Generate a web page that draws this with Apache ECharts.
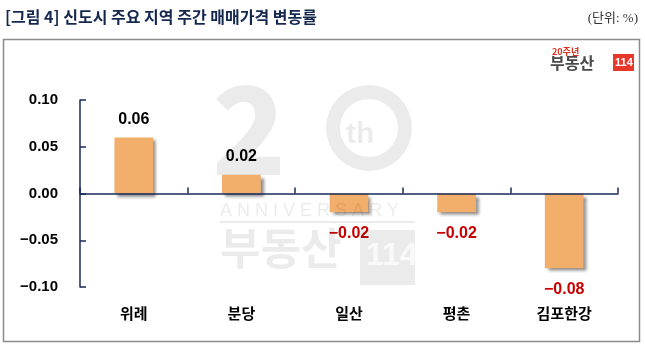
<!DOCTYPE html>
<html><head><meta charset="utf-8">
<script src="https://cdn.jsdelivr.net/npm/echarts@6/dist/echarts.min.js"></script>
<style>html,body{margin:0;padding:0;background:#fff}#c{width:645px;height:362px}</style>
</head><body><div id="c"></div>
<script>
const categories = ['위례', '분당', '일산', '평촌', '김포한강'];
const values = [0.06, 0.02, -0.02, -0.02, -0.08];
const yTicks = [-0.10, -0.05, 0.00, 0.05, 0.10];
const titleText = '[그림 4] 신도시 주요 지역 주간 매매가격 변동률';
const unitText = '(단위: %)';

const chart = echarts.init(document.getElementById('c'), null, {renderer: 'canvas'});
const wm = '#000';
const wmOp = 0.08;
chart.setOption({
  animation: false,
  backgroundColor: '#fff',
  grid: {left: 80, right: 27, top: 100, bottom: 75, containLabel: false, outerBoundsMode: 'none'},
  xAxis: [{
    type: 'category', data: categories,
    axisLine: {onZero: true, lineStyle: {color: '#1a2a5a', width: 1.5}},
    axisTick: {show: true, inside: true, length: 6, lineStyle: {color: '#1a2a5a', width: 1.5}},
    axisLabel: {show: false},
    z: 5
  }, {
    type: 'category', data: categories, position: 'bottom',
    axisLine: {show: false, onZero: false},
    axisTick: {show: false},
    axisLabel: {margin: 19, color: '#000', fontSize: 15, fontWeight: 'bold', fontFamily: 'Noto Sans CJK KR'}
  }],
  yAxis: {
    type: 'value', min: yTicks[0], max: yTicks[yTicks.length - 1], interval: 0.05,
    splitLine: {show: false},
    axisLine: {show: true, lineStyle: {color: '#1a2a5a', width: 1.5}},
    axisTick: {show: true, inside: true, length: 6, lineStyle: {color: '#1a2a5a', width: 1.5}},
    axisLabel: {
      margin: 22, color: '#000', fontSize: 15, fontWeight: 'bold', fontFamily: 'Liberation Sans',
      formatter: v => (v < -1e-9 ? '\u2212' : '') + Math.abs(v).toFixed(2)
    }
  },
  series: [{
    type: 'bar',
    xAxisIndex: 0,
    barWidth: '36%',
    data: values.map(v => ({
      value: v,
      label: {
        show: true,
        position: v >= 0 ? 'top' : 'bottom',
        distance: v >= 0 ? 10 : 13,
        color: v >= 0 ? '#000' : '#c80000',
        fontSize: 16, fontWeight: 'bold', fontFamily: 'Liberation Sans',
        formatter: p => (p.value < 0 ? '\u2212' : '') + Math.abs(p.value).toFixed(2)
      }
    })),
    itemStyle: {
      color: '#F2AE6B',
      shadowColor: 'rgba(0,0,0,0.45)', shadowBlur: 3, shadowOffsetX: 3, shadowOffsetY: 3
    },
    z: 2
  }],
  graphic: [
    {type: 'rect', shape: {x: 3.5, y: 39.5, width: 636, height: 302}, style: {fill: 'none', stroke: '#8c8c8c', lineWidth: 1.5}, z: 0, silent: true},
    {type: 'text', left: 5, top: 9, style: {text: titleText, fill: '#14284f', font: 'bold 16px "Noto Sans CJK KR"'}},
    {type: 'text', right: 7, top: 12, style: {text: unitText, fill: '#333', font: '13px "Liberation Serif", "Noto Sans CJK KR"'}},
    // watermark
    {type: 'text', x: 212, y: 68, style: {text: '2', fill: wm, opacity: wmOp, font: '900 122px "Noto Sans CJK KR"'}, z: 10, silent: true},
    {type: 'ring', shape: {cx: 369, cy: 128, r: 43, r0: 29}, style: {fill: wm, opacity: wmOp}, z: 10, silent: true},
    {type: 'text', x: 346, y: 120, style: {text: 'th', fill: wm, opacity: wmOp, font: 'bold 30px "Liberation Sans"'}, z: 10, silent: true},
    {type: 'text', x: 220, y: 202, style: {text: 'A N N I V E R S A R Y', fill: wm, opacity: wmOp, font: '18px "Liberation Sans"'}, z: 10, silent: true},
    {type: 'rect', shape: {x: 220, y: 221, width: 195, height: 2}, style: {fill: wm, opacity: wmOp}, z: 10, silent: true},
    {type: 'text', x: 220, y: 226, style: {text: '부동산', fill: wm, opacity: wmOp, font: 'bold 44px "Noto Sans CJK KR"'}, z: 10, silent: true},
    {type: 'rect', shape: {x: 360, y: 230, width: 55, height: 55}, style: {fill: wm, opacity: wmOp}, z: 10, silent: true},
    {type: 'text', x: 366, y: 240, style: {text: '114', fill: '#fff', opacity: 0.7, font: 'bold 32px "Liberation Sans Narrow", "Liberation Sans"'}, z: 11, silent: true},
    // logo
    {type: 'text', x: 552, y: 47, style: {text: '20주년', fill: '#e03020', font: 'bold 9px "Noto Sans CJK KR"'}},
    {type: 'text', x: 550, y: 55, style: {text: '부동산', fill: '#4a4a4a', font: 'bold 16px "Noto Sans CJK KR"'}},
    {type: 'rect', shape: {x: 613, y: 54, width: 21, height: 17}, style: {fill: '#e8382a'}},
    {type: 'text', x: 615, y: 57, style: {text: '114', fill: '#fff', font: 'bold 11px "Liberation Sans Narrow", "Liberation Sans"'}}
  ]
});
</script></body></html>
